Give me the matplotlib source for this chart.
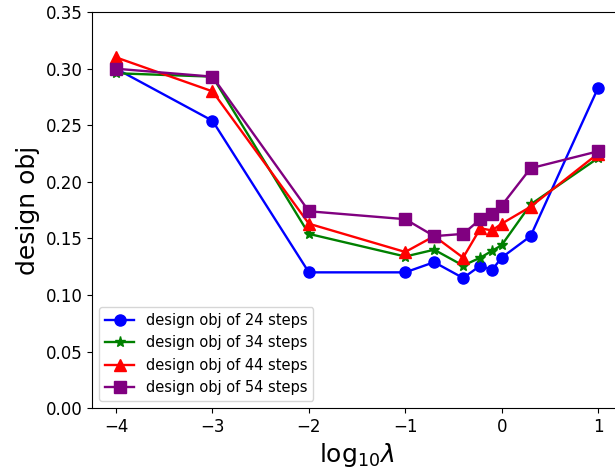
import matplotlib
matplotlib.use("Agg")
import matplotlib.pyplot as plt

LOG_LAMBDA = [-4, -3, -2, -1, -0.7, -0.4, -0.22, -0.1, 0, 0.3, 1]

OBJ_24 = [0.300, 0.254, 0.120, 0.120, 0.129, 0.115, 0.126, 0.122, 0.133, 0.152, 0.283]
OBJ_34 = [0.296, 0.293, 0.154, 0.134, 0.140, 0.126, 0.133, 0.139, 0.144, 0.180, 0.221]
OBJ_44 = [0.310, 0.280, 0.163, 0.138, 0.152, 0.133, 0.159, 0.157, 0.163, 0.178, 0.225]
OBJ_54 = [0.300, 0.293, 0.174, 0.167, 0.152, 0.154, 0.167, 0.172, 0.179, 0.212, 0.227]

SERIES = [
    ("design obj of 24 steps", OBJ_24, "blue", "o"),
    ("design obj of 34 steps", OBJ_34, "green", "*"),
    ("design obj of 44 steps", OBJ_44, "red", "^"),
    ("design obj of 54 steps", OBJ_54, "purple", "s"),
]


def main():
    fig = plt.figure(figsize=(6.15, 4.68), dpi=100)
    ax = fig.add_axes([0.1496, 0.128, 0.862, 0.846])

    for label, values, color, marker in SERIES:
        ax.plot(LOG_LAMBDA, values, color=color, marker=marker,
                linewidth=1.7, markersize=8, label=label)

    ax.set_xlim(-4.25, 1.25)
    ax.set_ylim(0.0, 0.35)
    ax.set_xticks([-4, -3, -2, -1, 0, 1])
    ax.set_xlabel(r"$\mathrm{log}_{10}\lambda$", fontsize=18)
    ax.set_ylabel("design obj", fontsize=18)
    ax.tick_params(axis="both", labelsize=12)
    ax.legend(loc="lower left", fontsize=10.5)

    fig.savefig("out.png", dpi=100)
    plt.close(fig)


if __name__ == "__main__":
    main()
